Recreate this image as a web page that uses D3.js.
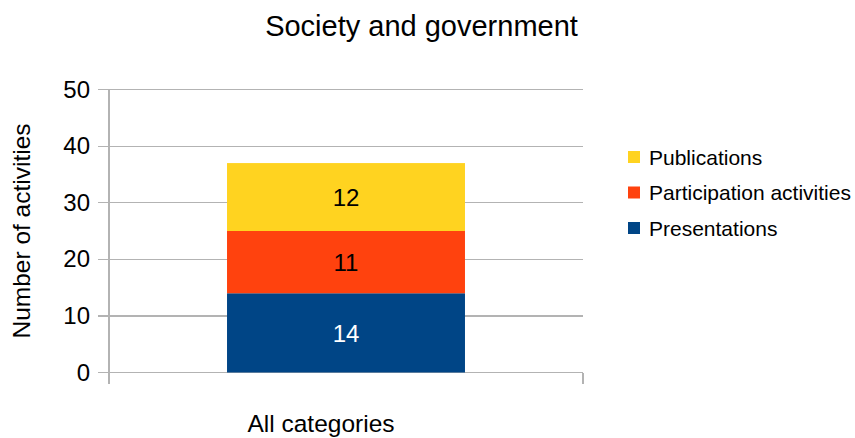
<!DOCTYPE html>
<html><head><meta charset="utf-8">
<script src="https://cdn.jsdelivr.net/npm/d3@7"></script>
<style>body{margin:0;background:#fff;}svg{display:block;font-family:"Liberation Sans",Arial,sans-serif;}</style>
</head><body>
<svg id="c" width="855" height="438"></svg>
<script>
const title = "Society and government";
const categories = ["All categories"];
const seriesNames = ["Presentations", "Participation activities", "Publications"];
const presentations = [14];
const participation = [11];
const publications = [12];
const seriesColors = ["#004586", "#ff420e", "#ffd320"];
const labelColors = ["#ffffff", "#000000", "#000000"];
const yTicks = [0, 10, 20, 30, 40, 50];
const yTitle = "Number of activities";

(function () {
const svg = d3.select("#c");
const pL = 109, pR = 583, pT = 89.5, pB = 372.5;
const y = d3.scaleLinear().domain([0, 50]).range([pB, pT]);
const x = d3.scaleBand().domain(categories).range([pL, pR]).paddingInner(0).paddingOuter(0.496);

const grid = "#b3b3b3";
svg.append("g").selectAll("line").data(yTicks).join("line")
  .attr("x1", pL - 11).attr("x2", pR).attr("y1", d => y(d)).attr("y2", d => y(d))
  .attr("stroke", grid).attr("stroke-width", 1.2).attr("shape-rendering", "crispEdges");
svg.append("line").attr("x1", pL).attr("x2", pL).attr("y1", pT).attr("y2", pB + 11)
  .attr("stroke", grid).attr("stroke-width", 1.2).attr("shape-rendering", "crispEdges");
svg.append("line").attr("x1", pR).attr("x2", pR).attr("y1", pB).attr("y2", pB + 11)
  .attr("stroke", grid).attr("stroke-width", 1.2).attr("shape-rendering", "crispEdges");
svg.append("g").selectAll("text").data(yTicks).join("text")
  .attr("x", pL - 19).attr("y", d => y(d)).attr("dy", "0.34em")
  .attr("text-anchor", "end").attr("font-size", 24).attr("fill", "#000").text(d => d);

const rows = categories.map((c, i) => ({cat: c, s0: presentations[i], s1: participation[i], s2: publications[i]}));
const stack = d3.stack().keys(["s0", "s1", "s2"])(rows);
stack.forEach((layer, li) => {
  const g = svg.append("g");
  g.selectAll("rect").data(layer).join("rect")
    .attr("x", d => x(d.data.cat)).attr("width", x.bandwidth())
    .attr("y", d => y(d[1])).attr("height", d => y(d[0]) - y(d[1]))
    .attr("fill", seriesColors[li]);
  g.selectAll("text").data(layer).join("text")
    .attr("x", d => x(d.data.cat) + x.bandwidth() / 2)
    .attr("y", d => (y(d[0]) + y(d[1])) / 2).attr("dy", "0.36em")
    .attr("text-anchor", "middle").attr("font-size", 24).attr("fill", labelColors[li])
    .text(d => d[1] - d[0]);
});

svg.append("g").selectAll("text").data(categories).join("text")
  .attr("x", d => x(d) + x.bandwidth() / 2 - 25).attr("y", 432)
  .attr("text-anchor", "middle").attr("font-size", 24.5).attr("fill", "#000").text(d => d);

svg.append("text").attr("transform", `translate(30,${(pT + pB) / 2}) rotate(-90)`)
  .attr("text-anchor", "middle").attr("font-size", 24.5).attr("fill", "#000").text(yTitle);

svg.append("text").attr("x", 421.5).attr("y", 36).attr("text-anchor", "middle")
  .attr("font-size", 29).attr("fill", "#000").text(title);

const legendOrder = [2, 1, 0];
const lg = svg.append("g");
legendOrder.forEach((si, k) => {
  const cy = 157 + k * 35.5;
  lg.append("rect").attr("x", 628).attr("y", cy - 6).attr("width", 12).attr("height", 12).attr("fill", seriesColors[si]);
  lg.append("text").attr("x", 649).attr("y", cy).attr("dy", "0.36em").attr("font-size", 21).attr("fill", "#000").text(seriesNames[si]);
});
})();
</script>
</body></html>
